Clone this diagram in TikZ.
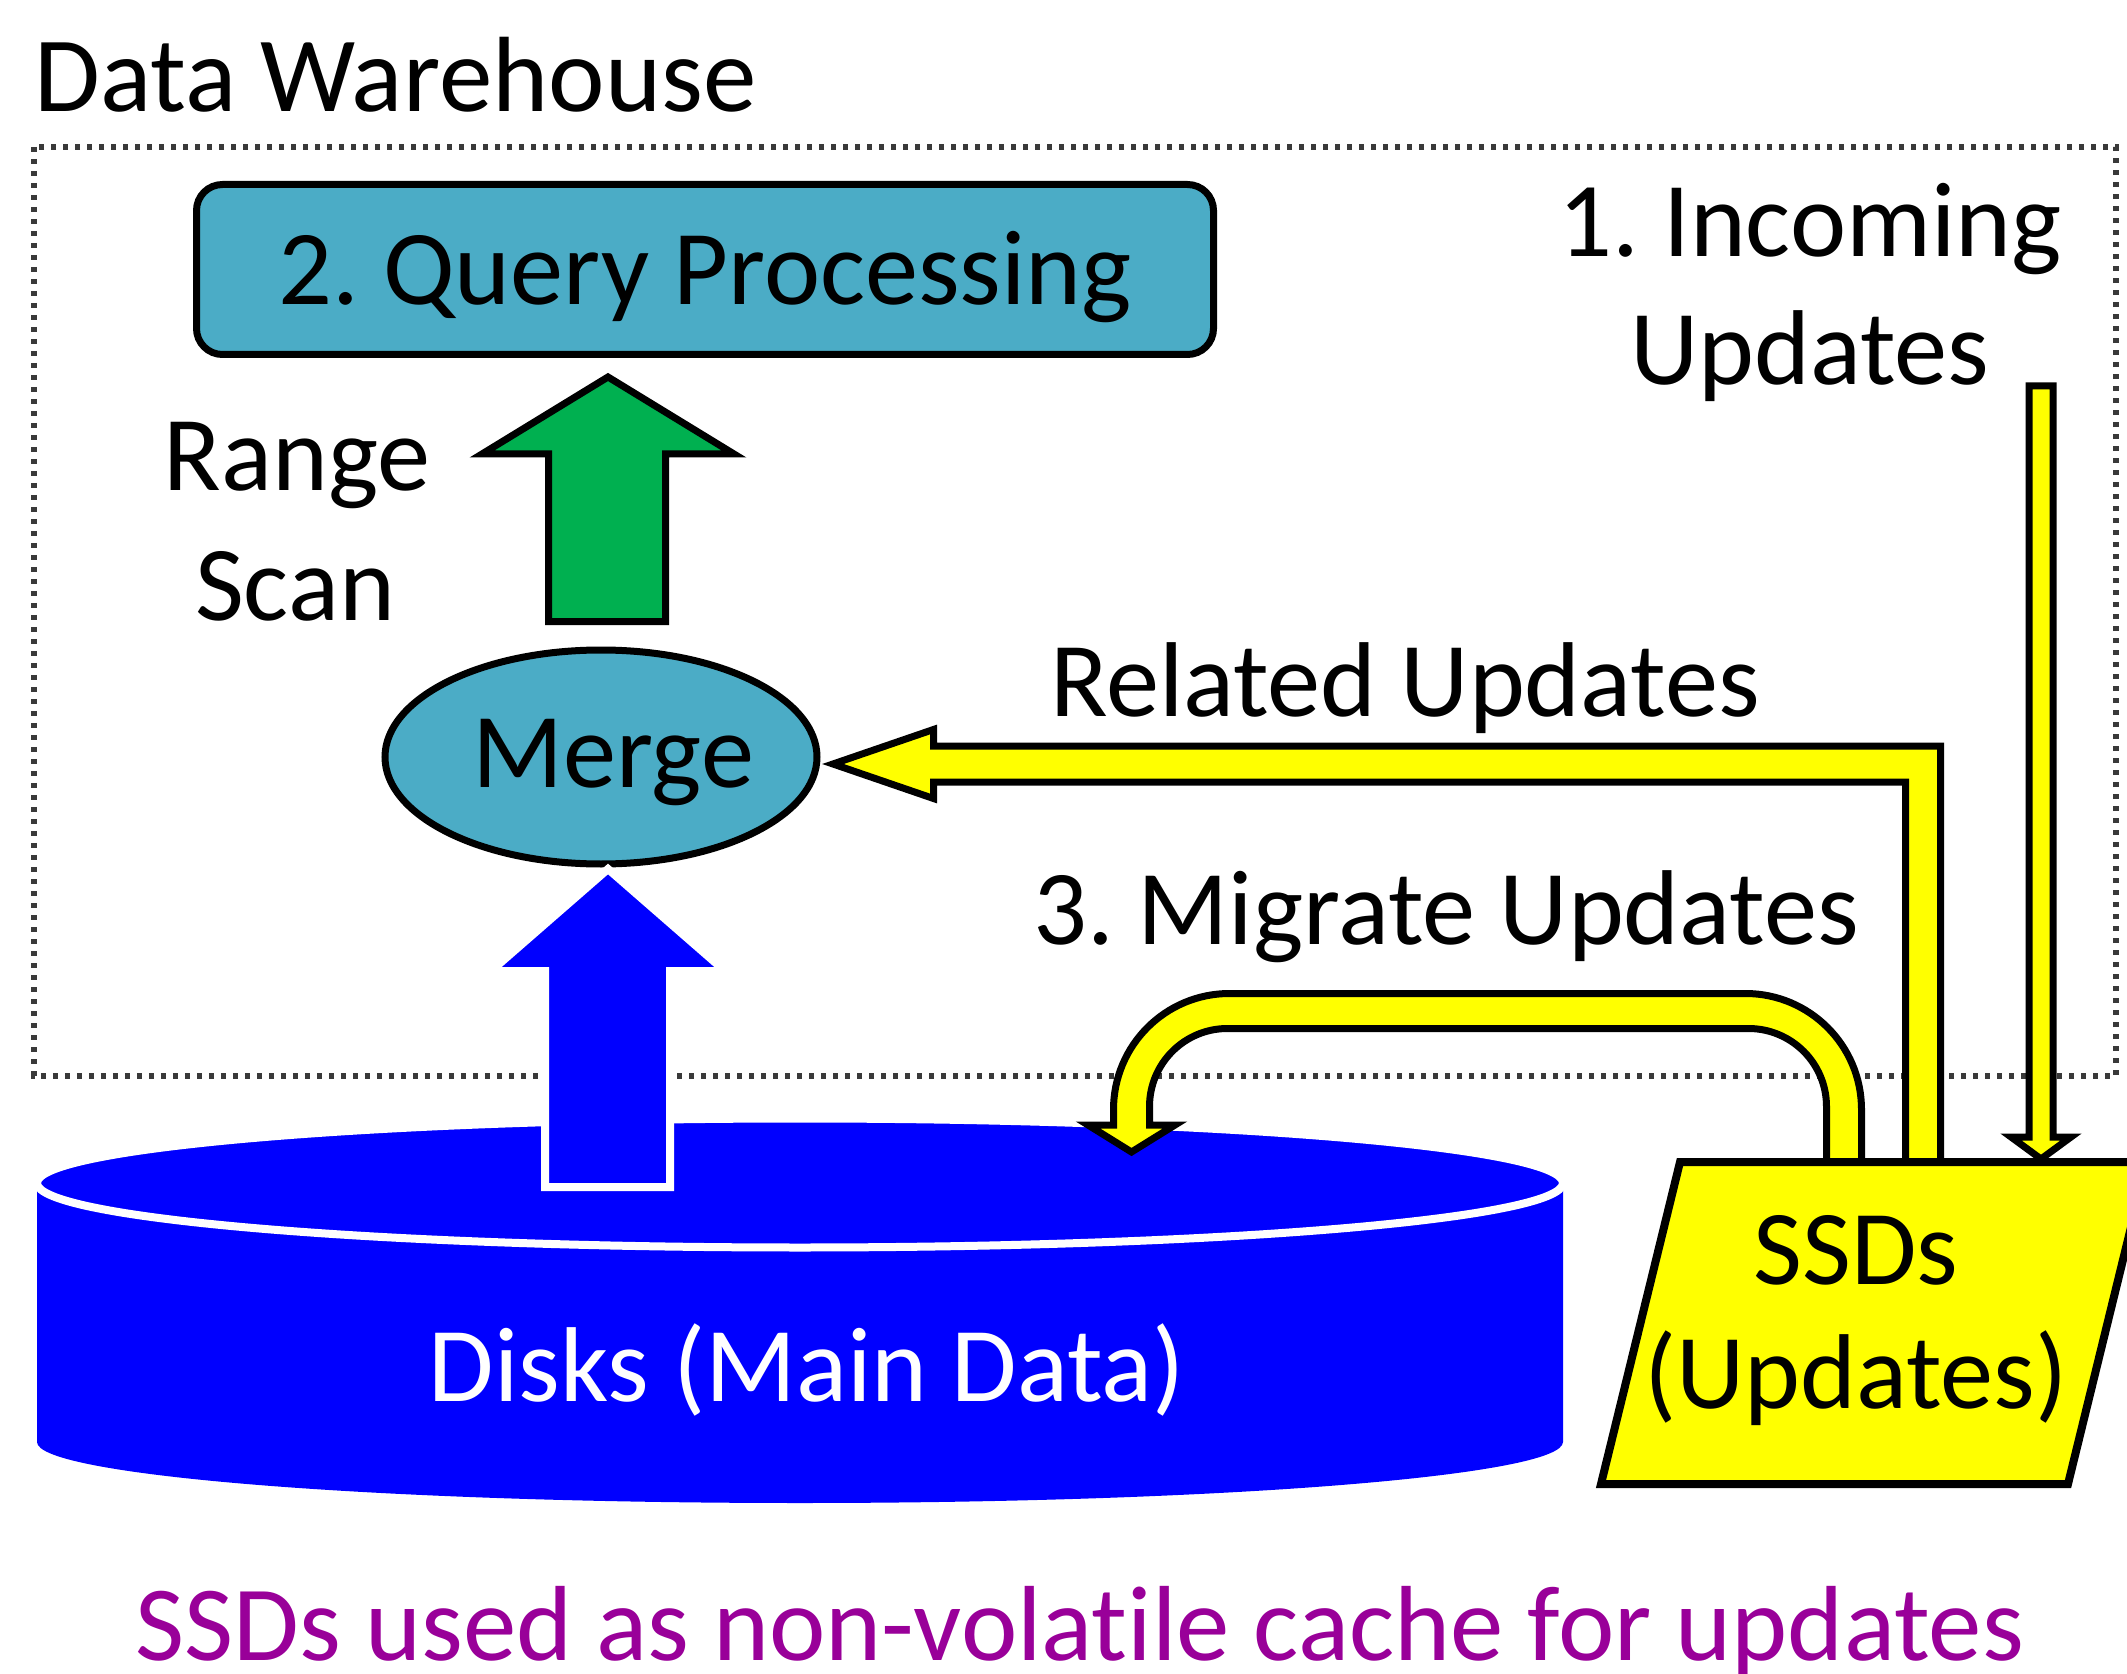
\documentclass[tikz,border=0pt]{standalone}
\usepackage{fontspec}
\setmainfont{Carlito}[Ligatures=NoCommon]
\usetikzlibrary{shapes.geometric}
\frenchspacing

\definecolor{qblue}{RGB}{75,172,198}
\definecolor{okgreen}{RGB}{0,176,80}
\definecolor{ssdyellow}{RGB}{255,255,0}
\definecolor{diskblue}{RGB}{0,0,255}
\definecolor{capcol}{RGB}{153,0,153}
\definecolor{framegray}{RGB}{58,58,58}

\begin{document}
\begin{tikzpicture}[x=0.5pt, y=-0.5pt,
  txt/.style={font=\fontsize{53.2}{64}\selectfont, inner sep=0pt, anchor=base},
  blackedge/.style={draw=black, line width=3.5pt, line join=miter, miter limit=10},
  yellowarrow/.style={fill=ssdyellow, blackedge},
]
\useasboundingbox (0,0) rectangle (2127,1674);
\clip (0,0) rectangle (2127,1674);

% warehouse frame
\draw[framegray, line width=2.7pt, dash pattern=on 2.7pt off 3.3pt] (34,147) rectangle (2116,1076);
\node[txt, anchor=base west, font=\fontsize{53.5}{64}\selectfont] (title) at (34,112) {Data Warehouse};

% disk cylinder
\fill[diskblue] (37,1183) -- (37,1442)
  arc[start angle=180, end angle=360, x radius=381.5pt, y radius=30.5pt]
  -- (1563,1183) -- cycle;
\filldraw[fill=diskblue, draw=white, line width=4pt] (800,1183) ellipse [x radius=381.5pt, y radius=32.25pt];
\node[txt, white] (disktext) at (807,1401) {Disks (Main Data)};

% merge step
\node[ellipse, draw=black, line width=3.5pt, fill=qblue, minimum width=216pt,
      minimum height=107pt, inner sep=0pt] (merge) at (601,757) {};
\node[txt] (mergelabel) at (613,787) {Merge};

% main data read from disk
\filldraw[fill=diskblue, draw=white, line width=4pt, line join=miter]
  (608,869) -- (725,971) -- (670,971) -- (670,1187) -- (545,1187) -- (545,971) -- (491,971) -- cycle;

% range scan up to query processing
\filldraw[fill=okgreen, blackedge]
  (608,377) -- (734,454) -- (665.5,454) -- (665.5,621.5) -- (548.5,621.5) -- (548.5,454) -- (482,454) -- cycle;

\node[draw=black, line width=3.5pt, fill=qblue, rounded corners=13pt,
      minimum width=508.5pt, minimum height=85pt, inner sep=0pt,
      text height=35.5pt, text depth=0pt, font=\fontsize{53.2}{64}\selectfont]
      (query) at (705,269.5) {2. Query Processing};

\node[txt] (range) at (297,491) {Range};
\node[txt] (scan) at (295,620) {Scan};

% migrate updates: SSDs back to disks
\filldraw[yellowarrow]
  (1861.5,1162) -- (1861.5,1109.5) arc[start angle=0, end angle=90, radius=58pt]
  -- (1229.5,993.5) arc[start angle=90, end angle=180, radius=58pt]
  -- (1113.5,1125) -- (1088,1125) -- (1131.5,1152) -- (1175,1125) -- (1149.5,1125)
  -- (1149.5,1106.5) arc[start angle=180, end angle=90, radius=39pt]
  -- (1748.5,1028.5) arc[start angle=90, end angle=0, radius=39pt]
  -- (1826.5,1162) -- cycle;

% related updates: SSDs to merge
\filldraw[yellowarrow]
  (833,764) -- (933.5,729.5) -- (933.5,746) -- (1940.5,746) -- (1940.5,1162)
  -- (1905.5,1162) -- (1905.5,782) -- (933.5,782) -- (933.5,798.5) -- cycle;

% incoming updates into SSDs
\filldraw[yellowarrow]
  (2029,386) -- (2053,386) -- (2053,1137) -- (2071,1137) -- (2041,1159) -- (2011,1137) -- (2029,1137) -- cycle;

% SSD store
\filldraw[fill=ssdyellow, draw=black, line width=4pt, line join=miter]
  (1680,1162) -- (2147,1162) -- (2068,1484) -- (1601,1484) -- cycle;
\node[txt] (ssd1) at (1856,1284) {SSDs};
\node[txt] (ssd2) at (1856,1408) {(Updates)};

% labels
\node[txt] (inc1) at (1810,257) {1. Incoming};
\node[txt] (inc2) at (1810,385) {Updates};
\node[txt] (related) at (1405,716) {Related Updates};
\node[txt] (migrate) at (1446,944) {3. Migrate Updates};
\node[txt, capcol, font=\fontsize{53.4}{64}\selectfont] (caption) at (1080,1660) {SSDs used as non-volatile cache for updates};
\end{tikzpicture}
\end{document}
